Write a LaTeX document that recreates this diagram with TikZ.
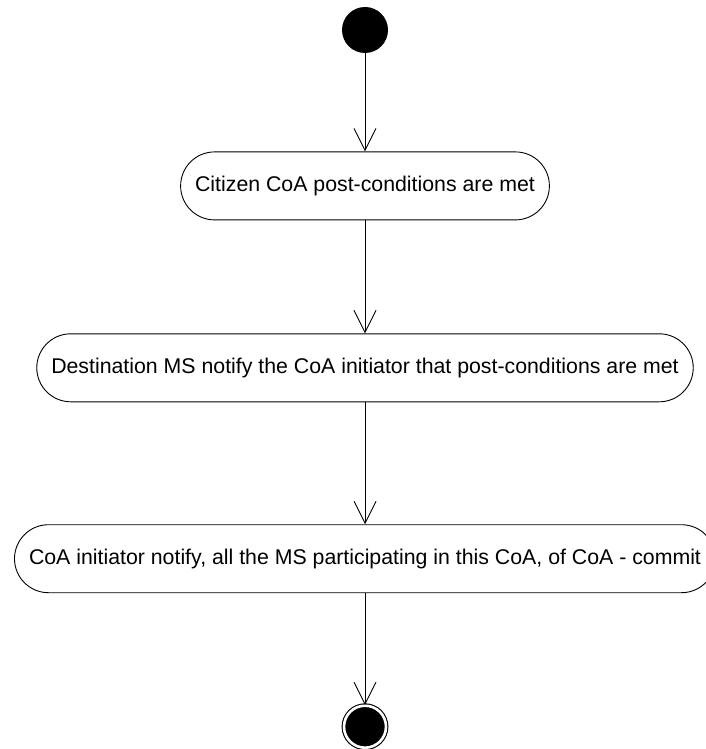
\documentclass[tikz,border=0pt]{standalone}
\usepackage{fontspec}
\setmainfont{Liberation Sans}
\usepackage{xcolor}
\usepackage{tikz}
\usetikzlibrary{positioning,arrows.meta}

\begin{document}
\begin{tikzpicture}[x=1pt, y=1pt, line width=0.9pt, >={Straight Barb[length=22pt,width=22pt]},
    every node/.style={align=center, font=\fontsize{21.3}{25}\selectfont},
    actionBox/.style={draw, rectangle, rounded corners=34pt, minimum height=68pt, inner xsep=14.5pt},
    startDot/.style={circle, fill=black, minimum size=46pt, inner sep=0pt},
    endDot/.style={circle, draw, fill=black, double=white, double distance=2.6pt, line width=1.1pt, minimum size=42pt, inner sep=0pt}]
    \useasboundingbox (0,0) rectangle (706,-749);

    % start and actions
    \node (start) [startDot] at (365,-30) {};
    \node (citizenMet) [below=98pt of start, actionBox] {Citizen CoA post-conditions are met};
    \node (destNotify) [below=113pt of citizenMet, actionBox] {Destination MS notify the CoA initiator that post-conditions are met};
    \node (initNotify) [below=122pt of destNotify, actionBox] {CoA initiator notify, all the MS participating in this CoA, of CoA - commit};
    \node (final) [below=112pt of initNotify, endDot] {};

    % arrows
    \draw[->] (start) -- (citizenMet);
    \draw[->] (citizenMet) -- (destNotify);
    \draw[->] (destNotify) -- (initNotify);
    \draw[->] (initNotify) -- (final);
\end{tikzpicture}
\end{document}
